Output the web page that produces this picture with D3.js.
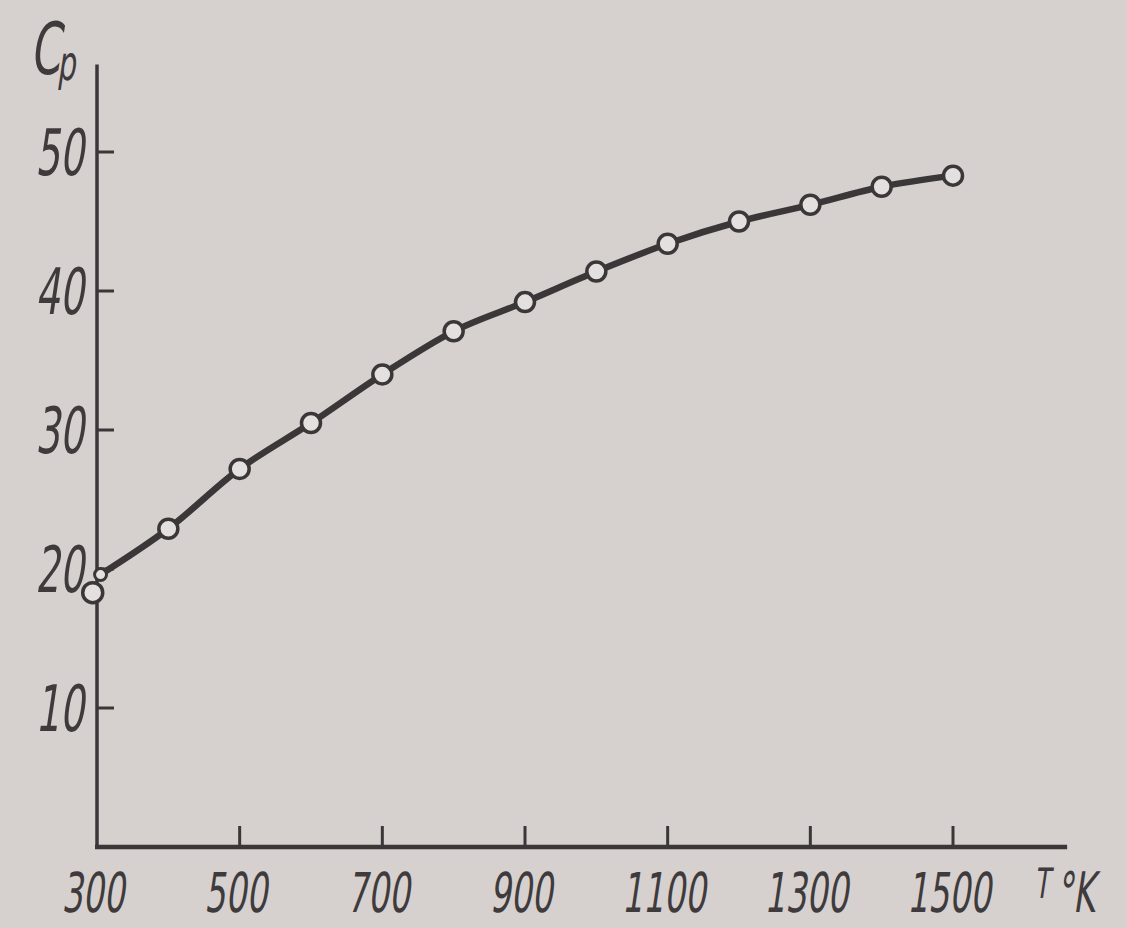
<!DOCTYPE html>
<html><head><meta charset="utf-8">
<script src="https://cdn.jsdelivr.net/npm/d3@7"></script>
<style>
html,body{margin:0;padding:0;background:#d6d1cf;}
svg{display:block;}
text{font-family:"DejaVu Sans","Liberation Sans",sans-serif;fill:#3f3b3c;}
</style></head>
<body>
<svg id="chart" width="1127" height="928"></svg>
<script>
// Data
const temps = [305, 400, 500, 600, 700, 800, 900, 1000, 1100, 1200, 1300, 1400, 1500];
const cp    = [19.6, 22.9, 27.2, 30.5, 34.0, 37.1, 39.2, 41.4, 43.4, 45.0, 46.2, 47.5, 48.3];
const extraT  = [294];
const extraCp = [18.3];
const xTicks = [300, 500, 700, 900, 1100, 1300, 1500];
const yTicks = [10, 20, 30, 40, 50];

const ink = "#3b3738";
const svg = d3.select("#chart");
svg.append("rect").attr("width",1127).attr("height",928).attr("fill","#d6d1cf");

const x = d3.scaleLinear().domain([300,1500]).range([97,953]);
const y = d3.scaleLinear().domain([0,50]).range([847,152]);

// axes lines
svg.append("line").attr("x1",x(300)).attr("x2",x(300)).attr("y1",y(0)).attr("y2",y(56.3))
  .attr("stroke",ink).attr("stroke-width",3.5);
svg.append("line").attr("x1",x(300)-2).attr("x2",x(1660)).attr("y1",y(0)).attr("y2",y(0))
  .attr("stroke",ink).attr("stroke-width",4.5);

// ticks
svg.selectAll(".yt").data(yTicks).join("line")
  .attr("x1",x(300)).attr("x2",x(300)+17).attr("y1",d=>y(d)).attr("y2",d=>y(d))
  .attr("stroke",ink).attr("stroke-width",3);
svg.selectAll(".xt").data(xTicks.slice(1)).join("line")
  .attr("x1",d=>x(d)).attr("x2",d=>x(d)).attr("y1",y(0)).attr("y2",y(0)-21)
  .attr("stroke",ink).attr("stroke-width",3);

// tick labels
const lblT = "scale(0.6,1) skewX(-14)";
svg.selectAll(".yl").data(yTicks).join("g")
  .attr("transform",d=>`translate(84,${y(d)+23}) ${lblT}`)
  .append("text").attr("text-anchor","end").attr("font-size",64).text(d=>d);
svg.selectAll(".xl").data(xTicks).join("g")
  .attr("transform",d=>`translate(${x(d)-4},912) ${lblT}`)
  .append("text").attr("text-anchor","middle").attr("font-size",55).text(d=>d);

// axis titles
const gc = svg.append("g").attr("transform",`translate(30,74) ${lblT}`);
gc.append("text").attr("font-size",72).text("C");
const gp = svg.append("g").attr("transform",`translate(57,80) ${lblT}`);
gp.append("text").attr("font-size",48).text("p");

const gT = svg.append("g").attr("transform",`translate(1034,898) ${lblT}`);
gT.append("text").attr("font-size",42).text("T");
const gK = svg.append("g").attr("transform",`translate(1056,912) ${lblT}`);
gK.append("text").attr("font-size",56).text("°K");

// curve
const pts = temps.map((t,i)=>[t,cp[i]]);
const line = d3.line().x(d=>x(d[0])).y(d=>y(d[1])).curve(d3.curveMonotoneX);
svg.append("path").datum(pts).attr("d",line).attr("fill","none")
  .attr("stroke",ink).attr("stroke-width",6.5).attr("stroke-linecap","round");

// markers
svg.selectAll(".pt").data(pts.slice(1)).join("circle")
  .attr("cx",d=>x(d[0])).attr("cy",d=>y(d[1])).attr("r",9.5)
  .attr("fill","#e4e0df").attr("stroke",ink).attr("stroke-width",3.5);
svg.selectAll(".pt0").data([pts[0]]).join("circle")
  .attr("cx",d=>x(d[0])).attr("cy",d=>y(d[1])).attr("r",6)
  .attr("fill","#e4e0df").attr("stroke",ink).attr("stroke-width",3);
svg.selectAll(".ex").data(extraT.map((t,i)=>[t,extraCp[i]])).join("circle")
  .attr("cx",d=>x(d[0])).attr("cy",d=>y(d[1])).attr("r",10)
  .attr("fill","#e4e0df").attr("stroke",ink).attr("stroke-width",3.5);
</script>
</body></html>
